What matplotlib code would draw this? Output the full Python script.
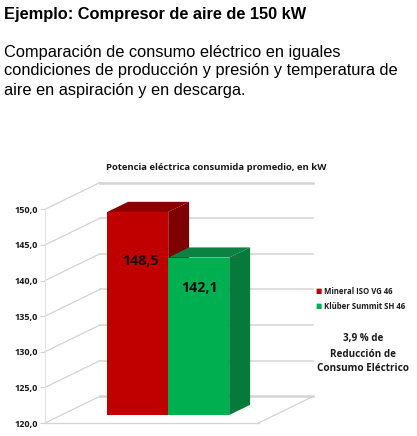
import matplotlib

matplotlib.use("Agg")
import matplotlib.pyplot as plt

W, H = 417, 436

values = [148.5, 142.1]
value_labels = ["148,5", "142,1"]
series = ["Mineral ISO VG 46", "Klüber Summit SH 46"]
yticks = [120, 125, 130, 135, 140, 145, 150]
ytick_labels = ["120,0", "125,0", "130,0", "135,0", "140,0", "145,0", "150,0"]
header = "Ejemplo: Compresor de aire de 150 kW"
body = [
    "Comparación de consumo eléctrico en iguales",
    "condiciones de producción y presión y temperatura de",
    "aire en aspiración y en descarga.",
]
chart_title = "Potencia eléctrica consumida promedio, en kW"
callout = ["3,9 % de", "Reducción de", "Consumo Eléctrico"]

front_colors = ["#C00000", "#00B050"]
side_colors = ["#7E0000", "#067A3A"]
top_colors = ["#8A0000", "#0B8244"]
GRID = "#D4D4D4"
LABEL = "#1A1A1A"

# oblique projection of the 3D box, in data units
DEPTH_X = 0.9
DEPTH_Y = 3.75
BAR_FRONT = 0.3
BAR_BACK = 0.68


def project(x, v, d):
    return x + d * DEPTH_X, v + d * DEPTH_Y


def face(ax, corners, color, zorder):
    pts = [project(*c) for c in corners]
    ax.fill([p[0] for p in pts], [p[1] for p in pts], color=color, lw=0, zorder=zorder, clip_on=False)


plt.rcParams["font.family"] = ["Open Sans", "DejaVu Sans"]
fig = plt.figure(figsize=(W / 100, H / 100), dpi=100)
ax = fig.add_axes([45 / W, 1 - 423 / H, 213.5 / W, 213.7 / H])
ax.set_xlim(0, 3.5)
ax.set_ylim(120, 150)
ax.patch.set_alpha(0)

# walls and floor
for v in yticks:
    x0, y0 = project(0, v, 1)
    x1, y1 = project(3.5, v, 1)
    ax.plot([0, x0], [v, y0], color=GRID, lw=0.9, clip_on=False, zorder=1)
    ax.plot([x0, x1], [y0, y1], color=GRID, lw=1.8 if v in (120, 150) else 1.1, clip_on=False, zorder=1)
x1, y1 = project(3.5, 120, 1)
ax.plot([3.5, x1], [120, y1], color=GRID, lw=0.9, clip_on=False, zorder=1)

for spine in ["top", "right"]:
    ax.spines[spine].set_visible(False)
ax.spines["left"].set_color("#E4E4E4")
ax.spines["left"].set_linewidth(0.7)
ax.spines["bottom"].set_color(GRID)
ax.spines["bottom"].set_linewidth(0.9)
ax.set_xticks([])
ax.set_yticks(yticks)
ax.set_yticklabels(ytick_labels, fontsize=6.6, fontweight="bold", color=LABEL)
ax.tick_params(axis="y", length=3.5, width=0.8, color=GRID, pad=1.5)

# bars, left to right so the green one covers the red side
for i, v in enumerate(values):
    x0, x1 = 0.75 + i, 1.75 + i
    face(ax, [(x1, 120, BAR_FRONT), (x1, 120, BAR_BACK), (x1, v, BAR_BACK), (x1, v, BAR_FRONT)], side_colors[i], 3 + i)
    face(ax, [(x0, v, BAR_FRONT), (x1, v, BAR_FRONT), (x1, v, BAR_BACK), (x0, v, BAR_BACK)], top_colors[i], 3 + i)
    face(ax, [(x0, 120, BAR_FRONT), (x1, 120, BAR_FRONT), (x1, v, BAR_FRONT), (x0, v, BAR_FRONT)], front_colors[i], 3 + i)

label_shift = [0.05, 0.02]
label_drop = [6.85, 4.25]
for i, v in enumerate(values):
    x, y = project(1.25 + i + label_shift[i], v - label_drop[i], BAR_FRONT)
    ax.text(x, y, value_labels[i], ha="center", va="center", fontsize=10.2, fontweight="bold",
            color="#1A0A10", zorder=8)


def put(x, y, s, **kw):
    fig.text(x / W, 1 - y / H, s, va="center", **kw)


put(4, 14, header, fontsize=11.8, fontweight="bold", family="Liberation Sans", color="black")
for line, y in zip(body, [52, 71, 90]):
    put(4, y, line, fontsize=11.8, family="Liberation Sans", color="black")

put(216, 167, chart_title, ha="center", fontsize=6.8, fontweight="bold", color=LABEL)

for name, color, y in zip(series, front_colors, [291, 306]):
    put(319, y, "■", ha="center", fontsize=4.8, color=color, family="DejaVu Sans")
    put(324, y, name, fontsize=5.6, fontweight="bold", color=LABEL)

for line, y in zip(callout, [339, 354, 368]):
    put(363, y, line, ha="center", fontsize=7.1, fontweight="bold", color=LABEL)

fig.savefig("out.png", dpi=100)
plt.close(fig)
